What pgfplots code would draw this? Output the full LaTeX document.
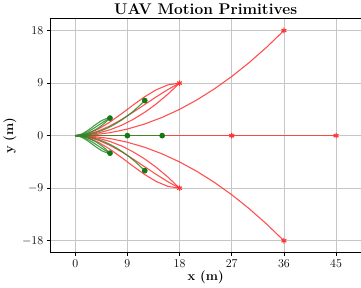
\documentclass[border=0pt]{standalone}
\usepackage{pgfplots}
\usepackage{pgfplotstable}
\pgfplotsset{compat=1.18}
\definecolor{pred}{RGB}{255,50,50}
\definecolor{pgreen}{RGB}{40,140,40}
\definecolor{pgreenm}{RGB}{20,120,20}
\pgfplotstableread{
x a b c na nb nc
0 0 0 0 0 0 0
2 0.111 0.210 0.309 -0.111 -0.210 -0.309
4 0.444 0.790 1.136 -0.444 -0.790 -1.136
6 1.000 1.667 2.333 -1.000 -1.667 -2.333
8 1.778 2.765 3.753 -1.778 -2.765 -3.753
10 2.778 4.012 5.247 -2.778 -4.012 -5.247
12 4.000 5.333 6.667 -4.000 -5.333 -6.667
14 5.444 6.654 7.864 -5.444 -6.654 -7.864
16 7.111 7.901 8.691 -7.111 -7.901 -8.691
18 9 9 9 -9 -9 -9
}\redsmall
\pgfplotstableread{
x a na
0 0 0
3 0.125 -0.125
6 0.5 -0.5
9 1.125 -1.125
12 2 -2
15 3.125 -3.125
18 4.5 -4.5
21 6.125 -6.125
24 8 -8
27 10.125 -10.125
30 12.5 -12.5
33 15.125 -15.125
36 18 -18
}\redlarge
\pgfplotstableread{
x a b c na nb nc
0 0 0 0 0 0 0
0.667 0.037 0.070 0.103 -0.037 -0.070 -0.103
1.333 0.148 0.263 0.379 -0.148 -0.263 -0.379
2 0.333 0.556 0.778 -0.333 -0.556 -0.778
2.667 0.593 0.922 1.251 -0.593 -0.922 -1.251
3.333 0.926 1.337 1.749 -0.926 -1.337 -1.749
4 1.333 1.778 2.222 -1.333 -1.778 -2.222
4.667 1.815 2.218 2.621 -1.815 -2.218 -2.621
5.333 2.370 2.634 2.897 -2.370 -2.634 -2.897
6 3 3 3 -3 -3 -3
}\greensmall
\pgfplotstableread{
x a na
0 0 0
1 0.042 -0.042
2 0.167 -0.167
3 0.375 -0.375
4 0.667 -0.667
5 1.042 -1.042
6 1.5 -1.5
7 2.042 -2.042
8 2.667 -2.667
9 3.375 -3.375
10 4.167 -4.167
11 5.042 -5.042
12 6 -6
}\greenlarge
\begin{document}
\begin{tikzpicture}[trim axis right]
\begin{axis}[
  scale only axis,
  width=310bp, height=233bp,
  xmin=-4.3, xmax=49.3, ymin=-20, ymax=20,
  xtick={0,9,18,27,36,45}, ytick={-18,-9,0,9,18},
  tick align=outside, xtick pos=left, ytick pos=left,
  major tick length=3.5bp,
  tick style={black, line width=0.6pt},
  grid=major, grid style={gray!45, line width=0.7pt},
  axis line style={line width=0.8pt},
  title={\bfseries UAV Motion Primitives},
  title style={font=\fontsize{15.5}{17}\selectfont, yshift=-5bp},
  xlabel={\bfseries x (m)}, ylabel={\bfseries y (m)},
  label style={font=\fontsize{13}{15}\selectfont},
  xlabel style={yshift=3bp}, ylabel style={yshift=-1bp},
  tick label style={font=\fontsize{11.5}{13}\selectfont},
  every axis plot/.append style={line width=1.1pt},
]
% red primitives
\addplot[pred, opacity=0.85, no marks] table[x=x,y=a] {\redsmall};
\addplot[pred, opacity=0.85, no marks] table[x=x,y=b] {\redsmall};
\addplot[pred, opacity=0.85, no marks] table[x=x,y=c] {\redsmall};
\addplot[pred, opacity=0.85, no marks] table[x=x,y=na] {\redsmall};
\addplot[pred, opacity=0.85, no marks] table[x=x,y=nb] {\redsmall};
\addplot[pred, opacity=0.85, no marks] table[x=x,y=nc] {\redsmall};
\addplot[pred, opacity=0.85, no marks] table[x=x,y=a] {\redlarge};
\addplot[pred, opacity=0.85, no marks] table[x=x,y=na] {\redlarge};
\addplot[pred, opacity=0.85, no marks] coordinates {(0,0) (45,0)};
\addplot[pred, only marks, mark=asterisk, mark size=2.8pt, mark options={line width=1.1pt}] coordinates {(18,9) (18,-9) (36,18) (36,-18) (27,0) (45,0)};
% green primitives
\addplot[pgreen, opacity=0.85, no marks] table[x=x,y=a] {\greensmall};
\addplot[pgreen, opacity=0.85, no marks] table[x=x,y=b] {\greensmall};
\addplot[pgreen, opacity=0.85, no marks] table[x=x,y=c] {\greensmall};
\addplot[pgreen, opacity=0.85, no marks] table[x=x,y=na] {\greensmall};
\addplot[pgreen, opacity=0.85, no marks] table[x=x,y=nb] {\greensmall};
\addplot[pgreen, opacity=0.85, no marks] table[x=x,y=nc] {\greensmall};
\addplot[pgreen, opacity=0.85, no marks] table[x=x,y=a] {\greenlarge};
\addplot[pgreen, opacity=0.85, no marks] table[x=x,y=na] {\greenlarge};
\addplot[pgreen, opacity=0.85, no marks] coordinates {(0,0) (15,0)};
\addplot[pgreenm, only marks, mark=*, mark size=2.3pt] coordinates {(6,3) (6,-3) (12,6) (12,-6) (9,0) (15,0)};
\end{axis}
\end{tikzpicture}
\end{document}
